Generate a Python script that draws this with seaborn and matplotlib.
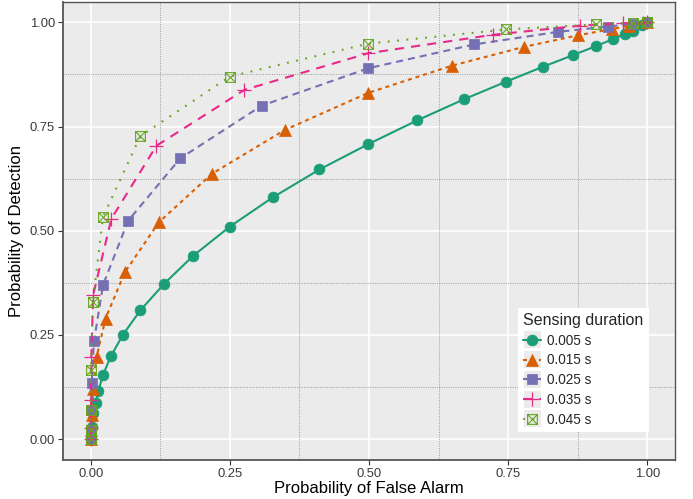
import numpy as np
import pandas as pd
import matplotlib
matplotlib.use("Agg")
import matplotlib.pyplot as plt
from matplotlib.path import Path
from matplotlib.patches import Rectangle
from matplotlib.legend_handler import HandlerLine2D
import seaborn as sns

# ROC curves for five sensing durations
durations = ["0.005 s", "0.015 s", "0.025 s", "0.035 s", "0.045 s"]

pfa_005 = [0, 0.0023, 0.004, 0.0085, 0.0135, 0.0216, 0.036, 0.058, 0.089, 0.132, 0.184,
           0.250, 0.327, 0.411, 0.499, 0.587, 0.670, 0.747, 0.812, 0.866, 0.908,
           0.939, 0.960, 0.975, 0.990, 1.0]
pd_005 = [0, 0.029, 0.062, 0.086, 0.115, 0.153, 0.199, 0.251, 0.309, 0.373, 0.440,
          0.510, 0.580, 0.647, 0.708, 0.765, 0.815, 0.858, 0.893, 0.921, 0.943,
          0.960, 0.972, 0.980, 0.993, 1.0]

pfa_015 = [0, 0.0005, 0.002, 0.004, 0.0103, 0.0264, 0.061, 0.122, 0.218, 0.349, 0.499,
           0.649, 0.778, 0.876, 0.937, 0.968, 1.0]
pd_015 = [0, 0.022, 0.058, 0.120, 0.197, 0.289, 0.400, 0.520, 0.637, 0.742, 0.831,
          0.896, 0.941, 0.969, 0.984, 0.992, 1.0]

pfa_025 = [0, 0.0003, 0.0008, 0.0015, 0.0058, 0.022, 0.067, 0.161, 0.307, 0.499,
           0.689, 0.839, 0.929, 0.974, 1.0]
pd_025 = [0, 0.022, 0.070, 0.134, 0.236, 0.370, 0.524, 0.674, 0.800, 0.890,
          0.947, 0.977, 0.990, 0.996, 1.0]

pfa_035 = [0, 0.0001, 0.0003, 0.001, 0.004, 0.037, 0.118, 0.276, 0.499, 0.722,
           0.879, 0.957, 0.993, 1.0]
pd_035 = [0, 0.026, 0.094, 0.197, 0.345, 0.529, 0.704, 0.838, 0.926, 0.970,
          0.992, 0.998, 0.999, 1.0]

pfa_045 = [0, 0.0001, 0.0001, 0.0002, 0.0036, 0.022, 0.089, 0.250, 0.499, 0.747,
           0.908, 0.974, 1.0]
pd_045 = [0, 0.022, 0.070, 0.167, 0.330, 0.533, 0.727, 0.870, 0.949, 0.983,
          0.995, 0.999, 1.0]

x_ticks = [0.00, 0.25, 0.50, 0.75, 1.00]
y_ticks = [0.00, 0.25, 0.50, 0.75, 1.00]
tick_labels = ["0.00", "0.25", "0.50", "0.75", "1.00"]

series_x = [pfa_005, pfa_015, pfa_025, pfa_035, pfa_045]
series_y = [pd_005, pd_015, pd_025, pd_035, pd_045]

colors = ["#1B9E77", "#D95F02", "#7570B3", "#E7298A", "#66A61E"]

# square with a cross inside
box_x = Path([(-1, -1), (1, -1), (1, 1), (-1, 1), (-1, -1),
              (-1, -1), (1, 1), (-1, 1), (1, -1)],
             [Path.MOVETO, Path.LINETO, Path.LINETO, Path.LINETO, Path.CLOSEPOLY,
              Path.MOVETO, Path.LINETO, Path.MOVETO, Path.LINETO])

lw = 1.5
styles = [
    dict(linestyle="-", marker="o", markersize=7.8, mfc=colors[0], mec=colors[0], mew=0.5),
    dict(linestyle=(0, (1.9, 1.9)), marker="^", markersize=8.5, mfc=colors[1], mec=colors[1], mew=0.5),
    dict(linestyle=(0, (3.4, 2.4)), marker="s", markersize=7, mfc=colors[2], mec=colors[2], mew=0.5),
    dict(linestyle=(0, (4.4, 3.4)), marker="+", markersize=10, mfc=colors[3], mec=colors[3], mew=0.9),
    dict(linestyle=(0, (0.9, 3.6)), marker=box_x, markersize=7, mfc="none", mec=colors[4], mew=0.8),
]

sns.set_theme(style="darkgrid")
plt.rcParams["font.family"] = ["Liberation Sans", "DejaVu Sans"]

fig = plt.figure(figsize=(6.93, 4.99), dpi=100)
ax = fig.add_axes([63 / 693, 1 - 460 / 499, 612 / 693, 458.5 / 499])
ax.set_facecolor("#EBEBEB")

for lab, xs, ys, c, st in zip(durations, series_x, series_y, colors, styles):
    df = pd.DataFrame({"pfa": xs, "pd": ys})
    sns.lineplot(data=df, x="pfa", y="pd", ax=ax, color=c, linewidth=lw,
                 sort=False, estimator=None, label=lab,
                 dash_capstyle="butt", **st)

ax.set_xlim(-0.05, 1.05)
ax.set_ylim(-0.05, 1.05)
ax.set_xticks(x_ticks)
ax.set_yticks(y_ticks)
ax.set_xticklabels(tick_labels)
ax.set_yticklabels(tick_labels)

# grid: white major lines, dotted grey minor lines
ax.grid(False)
for v in [0, 0.25, 0.5, 0.75, 1.0]:
    ax.axvline(v, color="white", lw=1.2, zorder=0.5)
    ax.axhline(v, color="white", lw=1.2, zorder=0.5)
for v in [0.125, 0.375, 0.625, 0.875]:
    ax.axvline(v, color="#A5A5A5", lw=0.75, ls=(0, (1, 1.2)), zorder=0.5)
    ax.axhline(v, color="#A5A5A5", lw=0.75, ls=(0, (1, 1.2)), zorder=0.5)
ax.set_axisbelow(True)

for sp in ax.spines.values():
    sp.set_visible(True)
    sp.set_color("#555555")
    sp.set_linewidth(1.0)
ax.spines["left"].set_linewidth(1.3)
ax.spines["bottom"].set_linewidth(1.3)

ax.tick_params(axis="both", which="major", length=3.3, width=0.8, color="#333333",
               labelsize=9.4, labelcolor="#3A3A3A", pad=2.5, bottom=True, left=True)

ax.set_xlabel("Probability of False Alarm", fontsize=12, color="black", labelpad=1)
ax.set_ylabel("Probability of Detection", fontsize=12, color="black", labelpad=4)


class KeyHandler(HandlerLine2D):
    """Legend key drawn over a grey square."""
    def create_artists(self, legend, orig_handle, xdescent, ydescent, width, height,
                       fontsize, trans):
        side = 17.0 * 72 / 100
        cy = height / 2 - ydescent
        bg = Rectangle((-xdescent + (width - side) / 2, cy - side / 2), side, side,
                       facecolor="#EBEBEB", edgecolor="none", transform=trans)
        arts = super().create_artists(legend, orig_handle, xdescent, ydescent, width,
                                      height, fontsize, trans)
        return [bg] + list(arts)


handles, labels = ax.get_legend_handles_labels()
leg = ax.legend(handles, labels, title="Sensing duration", loc="lower right",
                bbox_to_anchor=(0.957, 0.061), borderaxespad=0, frameon=True,
                fancybox=False, framealpha=1, facecolor="white", edgecolor="white",
                fontsize=9.8, title_fontsize=11.5, handlelength=1.35,
                handletextpad=0.45, labelspacing=0.42, borderpad=0.4,
                handler_map={h: KeyHandler(numpoints=1) for h in handles})
leg._legend_box.align = "left"
leg.get_frame().set_linewidth(0)

fig.savefig("out.png", dpi=100)
